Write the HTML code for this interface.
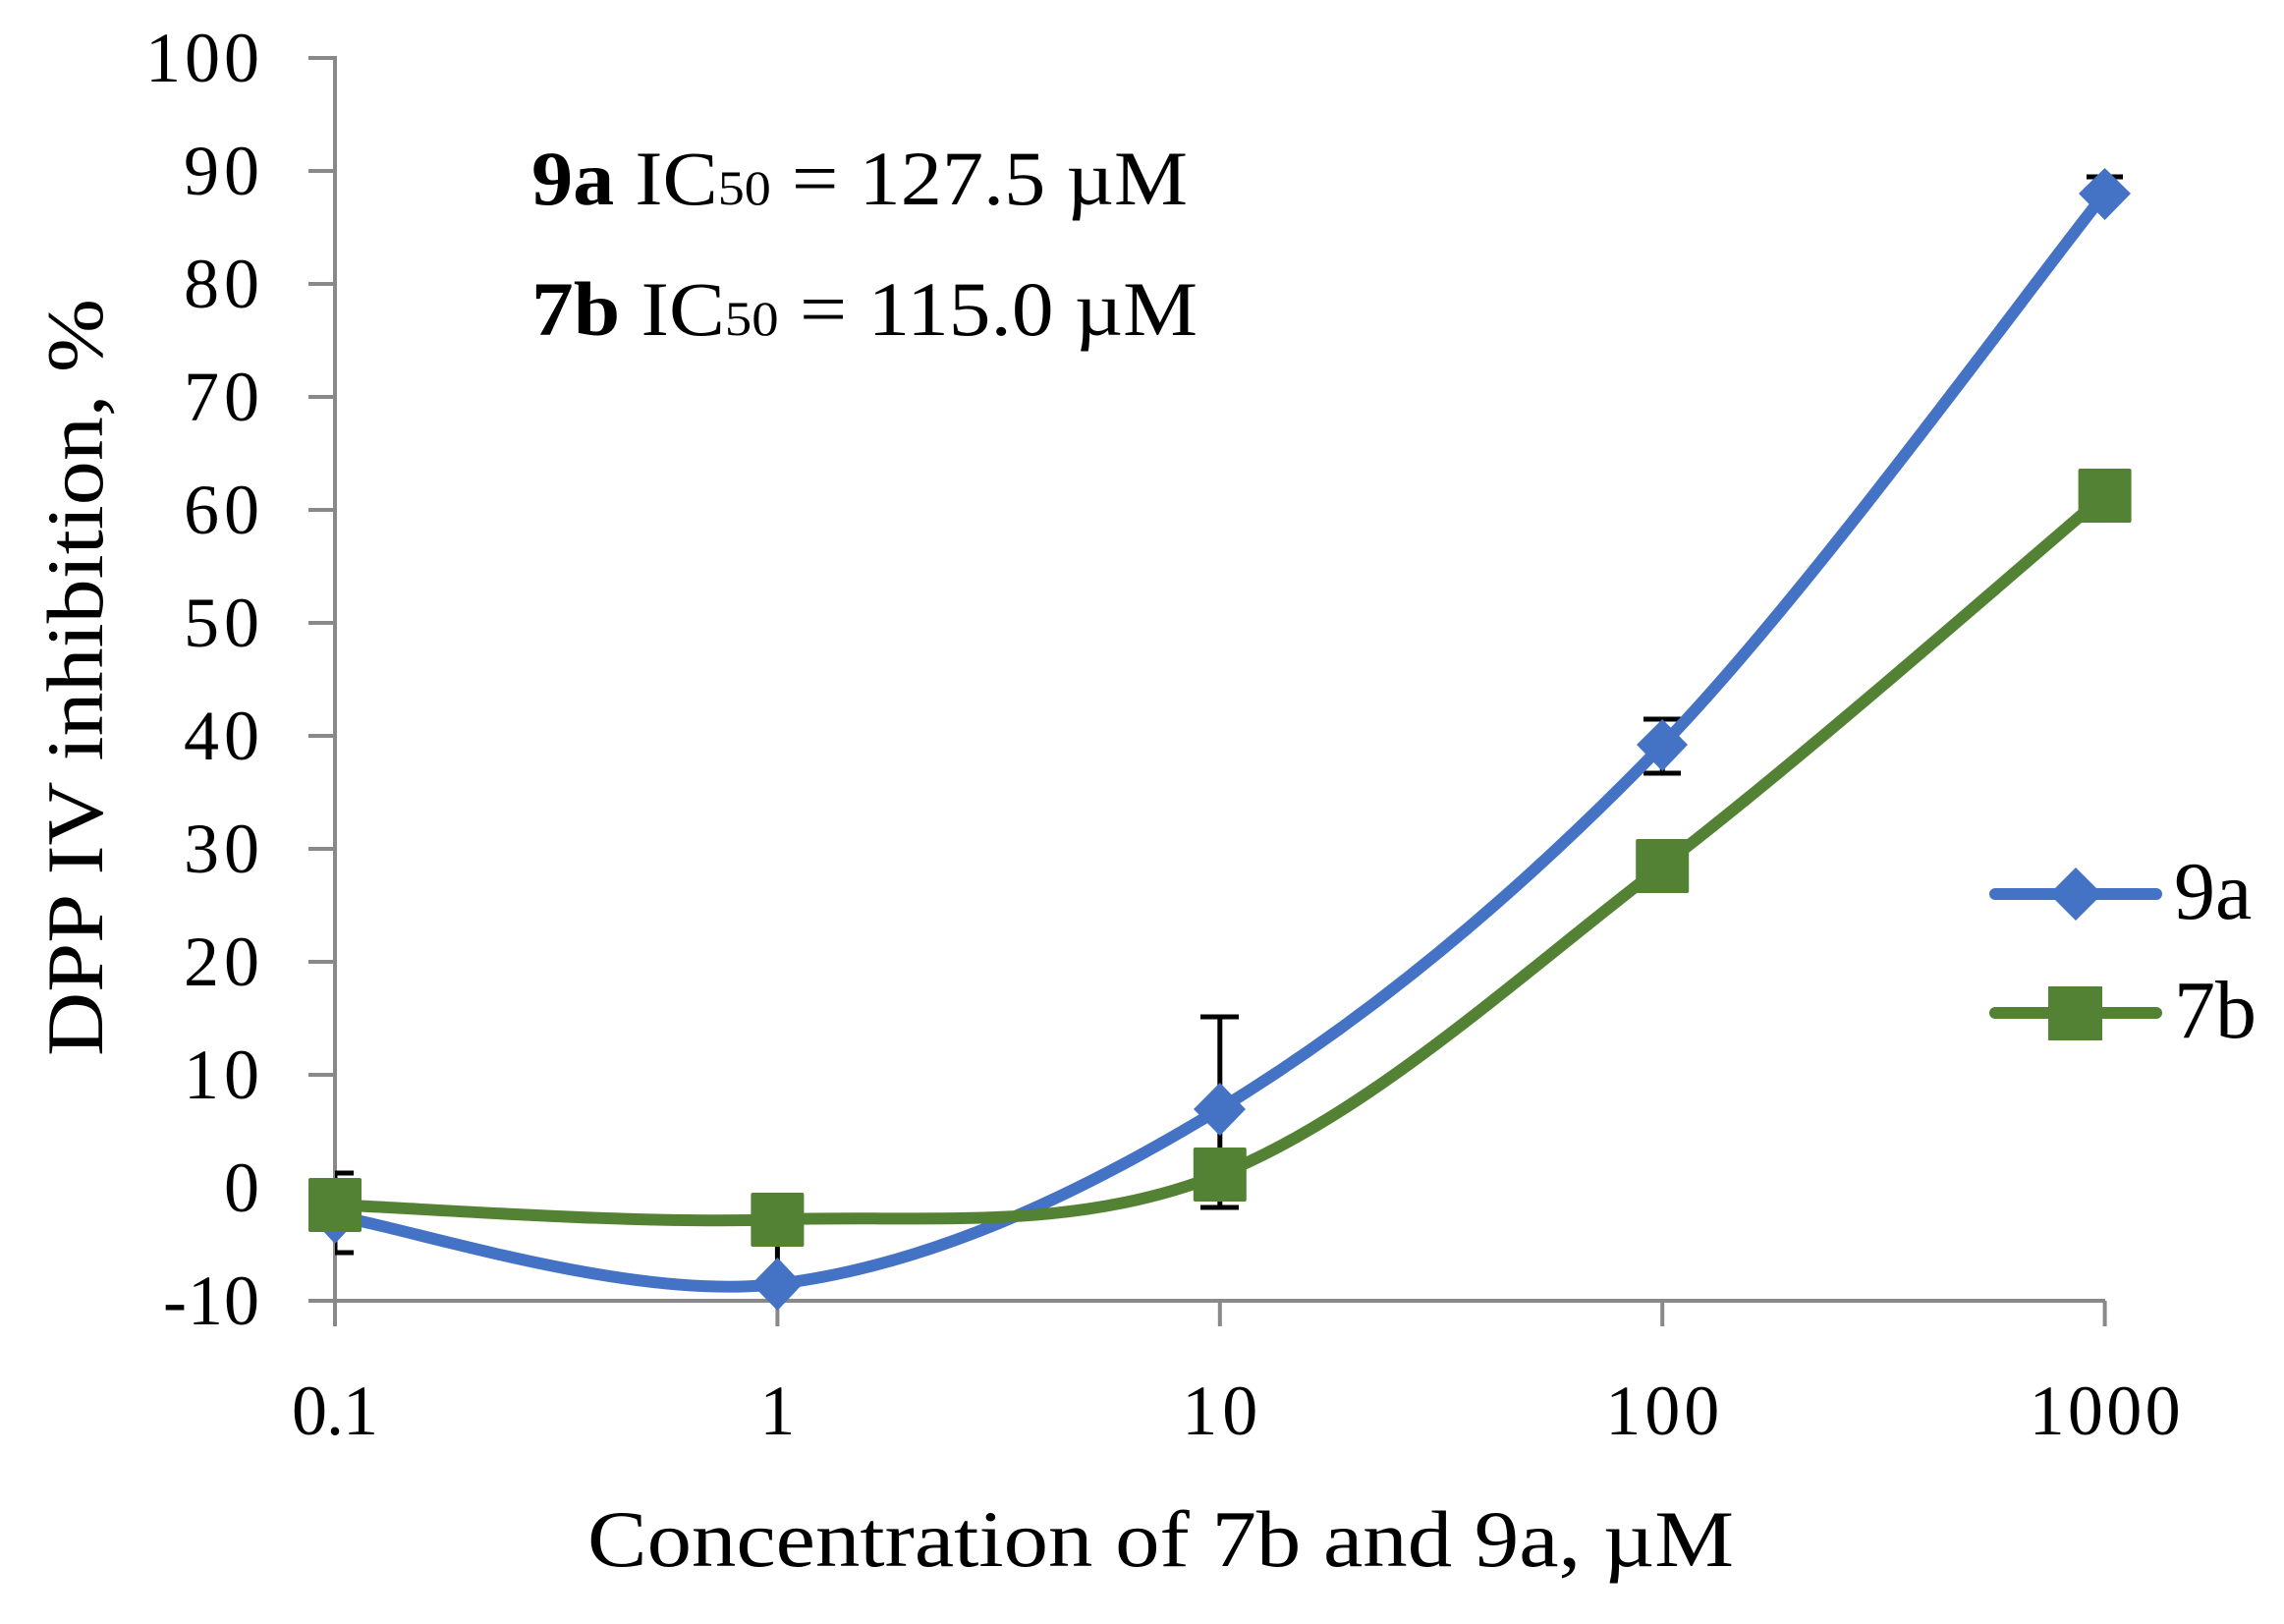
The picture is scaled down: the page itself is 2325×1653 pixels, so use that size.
<!DOCTYPE html>
<html><head><meta charset="utf-8"><style>html,body{margin:0;padding:0;background:#fff}svg{display:block}</style></head>
<body>
<svg width="2325" height="1653" viewBox="0 0 2325 1653" xmlns="http://www.w3.org/2000/svg" font-family="'Liberation Serif', serif">
<defs><clipPath id="pa"><rect x="341" y="0" width="1984" height="1653"/></clipPath></defs>
<g stroke="#898989" stroke-width="4" fill="none">
<line x1="341" y1="57" x2="341" y2="1350"/>
<line x1="339" y1="1324" x2="2143" y2="1324"/>
<line x1="314" y1="59" x2="341" y2="59"/><line x1="314" y1="174" x2="341" y2="174"/><line x1="314" y1="289" x2="341" y2="289"/><line x1="314" y1="404" x2="341" y2="404"/><line x1="314" y1="519" x2="341" y2="519"/><line x1="314" y1="634" x2="341" y2="634"/><line x1="314" y1="749" x2="341" y2="749"/><line x1="314" y1="864" x2="341" y2="864"/><line x1="314" y1="979" x2="341" y2="979"/><line x1="314" y1="1094" x2="341" y2="1094"/><line x1="314" y1="1209" x2="341" y2="1209"/><line x1="314" y1="1324" x2="341" y2="1324"/>
<line x1="791.4" y1="1324" x2="791.4" y2="1350"/><line x1="1241.8" y1="1324" x2="1241.8" y2="1350"/><line x1="1692.2" y1="1324" x2="1692.2" y2="1350"/><line x1="2142.6" y1="1324" x2="2142.6" y2="1350"/>
</g>
<g font-size="72" fill="#000" text-anchor="end" lengthAdjust="spacingAndGlyphs">
<text x="264" y="83" textLength="116">100</text><text x="264" y="198" textLength="77">90</text><text x="264" y="313" textLength="77">80</text><text x="264" y="428" textLength="77">70</text><text x="264" y="543" textLength="77">60</text><text x="264" y="658" textLength="77">50</text><text x="264" y="773" textLength="77">40</text><text x="264" y="888" textLength="77">30</text><text x="264" y="1003" textLength="77">20</text><text x="264" y="1118" textLength="77">10</text><text x="264" y="1233" textLength="39">0</text><text x="264" y="1348" textLength="98">-10</text>
</g>
<g font-size="72" fill="#000" text-anchor="middle" lengthAdjust="spacingAndGlyphs">
<text x="341" y="1460" textLength="88">0.1</text><text x="791.4" y="1460" textLength="36">1</text><text x="1241.8" y="1460" textLength="77">10</text><text x="1692.2" y="1460" textLength="116">100</text><text x="2142.6" y="1460" textLength="154">1000</text>
</g>
<text x="598" y="1594" font-size="82" textLength="1167" lengthAdjust="spacingAndGlyphs">Concentration of 7b and 9a, µM</text>
<text transform="translate(104,1075) rotate(-90)" font-size="82" textLength="771" lengthAdjust="spacingAndGlyphs">DPP IV inhibition, %</text>
<text x="541" y="208" font-size="78" textLength="668" lengthAdjust="spacingAndGlyphs"><tspan font-weight="bold">9a</tspan> IC<tspan font-size="50">50</tspan> = 127.5 µM</text>
<text x="541" y="341" font-size="78" textLength="678" lengthAdjust="spacingAndGlyphs"><tspan font-weight="bold">7b</tspan> IC<tspan font-size="50">50</tspan> = 115.0 µM</text>
<g stroke="#000" stroke-width="5" clip-path="url(#pa)">
<line x1="341" y1="1194" x2="341" y2="1275"/><line x1="322" y1="1194" x2="360" y2="1194"/><line x1="322" y1="1275" x2="360" y2="1275"/>
<line x1="791.4" y1="1240" x2="791.4" y2="1300"/>
<line x1="1241.8" y1="1035" x2="1241.8" y2="1229"/><line x1="1222" y1="1035" x2="1261" y2="1035"/><line x1="1222" y1="1229" x2="1261" y2="1229"/>
<line x1="1692.2" y1="732" x2="1692.2" y2="787"/><line x1="1673" y1="732" x2="1711" y2="732"/><line x1="1673" y1="787" x2="1711" y2="787"/>
<line x1="2142.6" y1="180" x2="2142.6" y2="197"/><line x1="2124" y1="180" x2="2161" y2="180"/>
</g>
<path d="M341,1237.9 C416.1,1249.4 641.3,1325.1 791.4,1306.9 C941.5,1288.7 1091.7,1220 1241.8,1128.6 C1391.9,1037.2 1542.1,913.6 1692.2,758.3 C1842.3,603 2067.5,290.6 2142.6,197.1" fill="none" stroke="#4472C4" stroke-width="12" stroke-linecap="round"/>
<g fill="#4472C4">
<polygon points="341,1210 367,1238 341,1266 315,1238"/>
<polygon points="791.4,1280 817,1307 791.4,1334 765,1307"/>
<polygon points="1241.8,1102 1268,1129 1241.8,1156 1215,1129"/>
<polygon points="1692.2,732 1718,758 1692.2,785 1666,758"/>
<polygon points="2142.6,171 2169,197 2142.6,224 2116,197"/>
</g>
<path d="M341,1226.4 C416.1,1228.9 641.3,1246.5 791.4,1241.3 C941.5,1236.1 1091.7,1255.3 1241.8,1195.3 C1391.9,1135.3 1542.1,996.5 1692.2,881.3 C1842.3,766.1 2067.5,567 2142.6,504.1" fill="none" stroke="#548235" stroke-width="12" stroke-linecap="round"/>
<g fill="#548235">
<rect x="314" y="1199" width="54" height="55" rx="2"/>
<rect x="764.4" y="1214" width="54" height="55" rx="2"/>
<rect x="1214.8" y="1168" width="54" height="55" rx="2"/>
<rect x="1665.2" y="854" width="54" height="55" rx="2"/>
<rect x="2115.6" y="477" width="54" height="55" rx="2"/>
</g>
<line x1="2031" y1="910" x2="2195" y2="910" stroke="#4472C4" stroke-width="12" stroke-linecap="round"/>
<polygon points="2113,883 2140,910 2113,937 2086,910" fill="#4472C4"/>
<line x1="2031" y1="1031" x2="2195" y2="1031" stroke="#548235" stroke-width="12" stroke-linecap="round"/>
<rect x="2085" y="1004" width="55" height="55" fill="#548235"/>
<text x="2213" y="935" font-size="84">9a</text>
<text x="2213" y="1056" font-size="84">7b</text>
</svg>
</body></html>
